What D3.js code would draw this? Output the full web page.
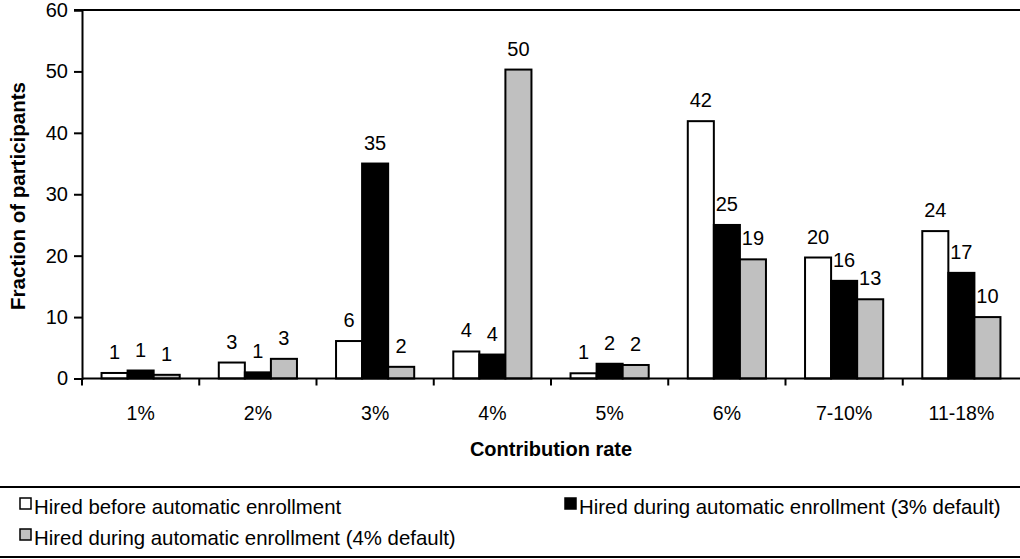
<!DOCTYPE html>
<html>
<head>
<meta charset="utf-8">
<script src="https://cdn.jsdelivr.net/npm/d3@7"></script>
<style>
  body { margin: 0; background: #fff; }
  text { font-family: "Liberation Sans", Arial, sans-serif; fill: #000; }
</style>
</head>
<body>
<div id="chart"></div>
<script>
// contribution rate categories
const categories = ["1%", "2%", "3%", "4%", "5%", "6%", "7-10%", "11-18%"];

// fraction of participants for each group
const hiredBefore = [0.9, 2.6, 6.1, 4.4, 0.85, 41.9, 19.7, 24.0];
const hired3pct   = [1.3, 1.0, 35.0, 3.9, 2.4, 25.0, 15.9, 17.2];
const hired4pct   = [0.6, 3.2, 1.9, 50.3, 2.2, 19.4, 12.9, 10.0];

const seriesNames = [
  "Hired before automatic enrollment",
  "Hired during automatic enrollment (3% default)",
  "Hired during automatic enrollment (4% default)"
];
const seriesColors = ["#ffffff", "#000000", "#c0c0c0"];
const yTicks = [0, 10, 20, 30, 40, 50, 60];

const width = 1020, height = 559;
const margin = {top: 10, right: 0, bottom: 180, left: 82};

const svg = d3.select("#chart")
  .append("svg")
  .attr("width", width)
  .attr("height", height);

const allSeries = [hiredBefore, hired3pct, hired4pct];
const data = categories.map((c, i) => ({
  cat: c,
  vals: allSeries.map((s, j) => ({key: j, value: s[i]}))
}));

let x0 = d3.scaleBand()
  .domain(categories)
  .range([margin.left, width - margin.right]);

let x1 = d3.scaleBand()
  .domain([0, 1, 2])
  .range([x0.bandwidth() / 6, x0.bandwidth() * 5 / 6]);

let y = d3.scaleLinear()
  .domain([0, 60])
  .range([height - margin.bottom - 0.5, margin.top]);

const y0 = y(0);

// top frame line
svg.append("line")
  .attr("x1", margin.left - 8).attr("x2", width)
  .attr("y1", y(60)).attr("y2", y(60))
  .attr("stroke", "#000").attr("stroke-width", 2);

// y axis
const yAxis = svg.append("g")
  .attr("transform", `translate(${margin.left}, 0)`)
  .call(d3.axisLeft(y).tickValues(yTicks).tickSize(8).tickPadding(6));
yAxis.select(".domain").attr("stroke-width", 2);
yAxis.selectAll(".tick line").attr("stroke-width", 2);
yAxis.selectAll("text")
  .attr("font-size", "20px")
  .attr("font-family", "Liberation Sans, Arial, sans-serif");

// bars
const groups = svg.selectAll(".grp")
  .data(data)
  .enter()
  .append("g")
  .attr("class", "grp")
  .attr("transform", d => `translate(${x0(d.cat)}, 0)`);

groups.selectAll("rect")
  .data(d => d.vals)
  .enter()
  .append("rect")
  .attr("x", d => x1(d.key))
  .attr("y", d => y(d.value))
  .attr("width", x1.bandwidth())
  .attr("height", d => y0 - y(d.value))
  .attr("fill", d => seriesColors[d.key])
  .attr("stroke", "#000")
  .attr("stroke-width", 2);

groups.selectAll(".lbl")
  .data(d => d.vals)
  .enter()
  .append("text")
  .attr("class", "lbl")
  .attr("x", d => x1(d.key) + x1.bandwidth() / 2)
  .attr("y", d => y(d.value) - 14)
  .attr("text-anchor", "middle")
  .attr("font-size", "20px")
  .text(d => d3.format(".0f")(d.value));

// x axis line and category ticks
svg.append("line")
  .attr("x1", margin.left).attr("x2", width)
  .attr("y1", y0).attr("y2", y0)
  .attr("stroke", "#000").attr("stroke-width", 2);

svg.selectAll(".xtick")
  .data(categories)
  .enter()
  .append("line")
  .attr("class", "xtick")
  .attr("x1", d => x0(d)).attr("x2", d => x0(d))
  .attr("y1", y0).attr("y2", y0 + 7)
  .attr("stroke", "#000").attr("stroke-width", 2);

svg.selectAll(".xlbl")
  .data(categories)
  .enter()
  .append("text")
  .attr("class", "xlbl")
  .attr("x", d => x0(d) + x0.bandwidth() / 2)
  .attr("y", 420)
  .attr("text-anchor", "middle")
  .attr("font-size", "19.5px")
  .text(d => d);

// axis titles
svg.append("text")
  .attr("x", 551).attr("y", 456)
  .attr("text-anchor", "middle")
  .attr("font-size", "20px")
  .attr("font-weight", "bold")
  .text("Contribution rate");

svg.append("text")
  .attr("transform", "translate(25, 196) rotate(-90)")
  .attr("text-anchor", "middle")
  .attr("font-size", "20.5px")
  .attr("font-weight", "bold")
  .text("Fraction of participants");

// legend
const legendTop = 487, legendBottom = 557;
[legendTop, legendBottom].forEach(ly => {
  svg.append("line")
    .attr("x1", 0).attr("x2", width)
    .attr("y1", ly).attr("y2", ly)
    .attr("stroke", "#000").attr("stroke-width", 2);
});

const legendPos = [
  {x: 20, y: 514},
  {x: 565, y: 514},
  {x: 20, y: 545}
];

const legend = svg.selectAll(".leg")
  .data(seriesNames)
  .enter()
  .append("g")
  .attr("class", "leg")
  .attr("transform", (d, i) => `translate(${legendPos[i].x}, ${legendPos[i].y})`);

legend.append("rect")
  .attr("x", 0).attr("y", -16)
  .attr("width", 11).attr("height", 11)
  .attr("fill", (d, i) => seriesColors[i])
  .attr("stroke", "#000")
  .attr("stroke-width", 1.5);

legend.append("text")
  .attr("x", 14)
  .attr("font-size", "20.4px")
  .text(d => d);
</script>
</body>
</html>
